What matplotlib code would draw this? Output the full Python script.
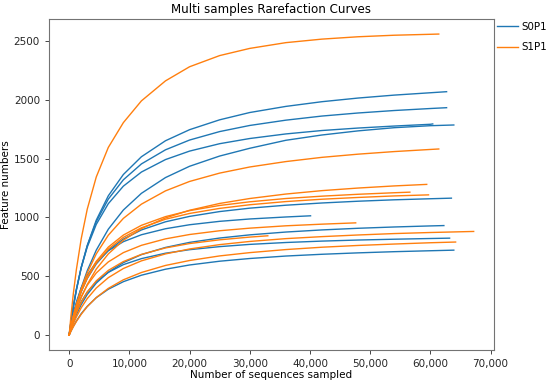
import matplotlib
matplotlib.use("Agg")
import matplotlib.pyplot as plt
from matplotlib.ticker import FuncFormatter, MultipleLocator

# Sequencing depths at which the curves were read (each curve also has its own final depth)
depths = [0, 300, 700, 1200, 2000, 3000, 4500, 6500, 9000, 12000, 16000,
          20000, 25000, 30000, 36000, 42000, 48000, 54000, 60000]

# Group S0P1 (blue)
s0p1_end_depth = [62700, 62700, 63900, 60400, 63500, 40100, 62250, 63200, 63900]
s0p1_features = [
    [0, 109, 239, 381, 571, 760, 976, 1183, 1364, 1515, 1651, 1745, 1829, 1891, 1943, 1983, 2014, 2039, 2059, 2068],
    [0, 112, 245, 387, 575, 758, 963, 1155, 1319, 1454, 1574, 1657, 1729, 1781, 1826, 1861, 1887, 1908, 1925, 1932],
    [0, 72, 161, 261, 400, 546, 721, 899, 1062, 1204, 1338, 1434, 1521, 1587, 1655, 1700, 1735, 1762, 1779, 1785],
    [0, 115, 248, 389, 572, 747, 940, 1116, 1265, 1385, 1491, 1563, 1626, 1670, 1709, 1738, 1759, 1776, 1791, 1794],
    [0, 73, 159, 250, 367, 480, 604, 719, 815, 893, 962, 1008, 1049, 1078, 1103, 1122, 1137, 1149, 1158, 1163],
    [0, 87, 184, 281, 400, 508, 619, 716, 793, 852, 903, 937, 966, 986, 1003, 1013],
    [0, 49, 108, 172, 258, 344, 441, 534, 615, 683, 744, 787, 824, 851, 875, 893, 907, 918, 927, 930],
    [0, 58, 125, 194, 282, 365, 453, 532, 598, 649, 695, 725, 751, 770, 786, 798, 807, 814, 820, 823],
    [0, 34, 74, 119, 181, 243, 317, 389, 453, 508, 559, 595, 627, 650, 671, 686, 698, 708, 716, 721],
]

# Group S1P1 (orange)
s1p1_end_depth = [61400, 61400, 59400, 56600, 59700, 47600, 33000, 67200, 64200]
s1p1_features = [
    [0, 164, 355, 557, 818, 1069, 1343, 1594, 1805, 1990, 2160, 2280, 2375, 2436, 2485, 2515, 2535, 2548, 2556, 2558],
    [0, 72, 160, 258, 391, 528, 689, 848, 991, 1112, 1225, 1305, 1376, 1428, 1474, 1510, 1537, 1559, 1577, 1581],
    [0, 59, 130, 209, 318, 429, 560, 689, 805, 904, 995, 1060, 1118, 1160, 1198, 1227, 1249, 1267, 1280],
    [0, 75, 162, 256, 377, 495, 626, 747, 849, 932, 1006, 1057, 1101, 1132, 1160, 1180, 1196, 1209, 1214],
    [0, 73, 159, 250, 369, 484, 612, 730, 830, 911, 984, 1033, 1076, 1107, 1134, 1154, 1169, 1182, 1191],
    [0, 67, 143, 223, 326, 423, 527, 621, 700, 762, 817, 854, 886, 908, 928, 942, 953],
    [0, 55, 119, 188, 277, 364, 460, 549, 624, 685, 740, 777, 809, 832, 843],
    [0, 43, 96, 153, 231, 309, 399, 487, 565, 630, 689, 731, 768, 795, 819, 836, 850, 862, 871, 880],
    [0, 32, 71, 115, 176, 241, 318, 396, 469, 531, 591, 633, 672, 700, 726, 746, 761, 773, 784, 790],
]

groups = ["S0P1", "S1P1"]
colors = ["#1f77b4", "#ff7f0e"]

fig = plt.figure(figsize=(5.5, 3.84), dpi=100)
ax = fig.add_axes([0.089, 0.0885, 0.809, 0.862])

for name, color, ends, feats in zip(groups, colors,
                                    [s0p1_end_depth, s1p1_end_depth],
                                    [s0p1_features, s1p1_features]):
    for i, (end, ys) in enumerate(zip(ends, feats)):
        xs = [d for d in depths if d < end] + [end]
        ax.plot(xs, ys, color=color, lw=1.0,
                label=name if i == 0 else None)

ax.xaxis.set_major_locator(MultipleLocator(10000))
ax.yaxis.set_major_locator(MultipleLocator(500))
ax.xaxis.set_major_formatter(FuncFormatter(lambda v, p: f"{v:,.0f}"))
ax.tick_params(labelsize=7.5, length=3, width=0.6, colors="0.15")
for sp in ax.spines.values():
    sp.set_color("0.45")
    sp.set_linewidth(0.8)

ax.set_title("Multi samples Rarefaction Curves", fontsize=8.6, pad=4)
ax.set_xlabel("Number of sequences sampled", fontsize=7.5, labelpad=1)
ax.set_ylabel("Feature numbers", fontsize=7.5, labelpad=2)

ax.legend(loc="upper left", bbox_to_anchor=(1.0, 1.0), frameon=False,
          fontsize=7.4, handlelength=2.0, handletextpad=0.4,
          labelspacing=1.0, borderaxespad=0.0, borderpad=0.3)

fig.savefig("out.png", dpi=100)
